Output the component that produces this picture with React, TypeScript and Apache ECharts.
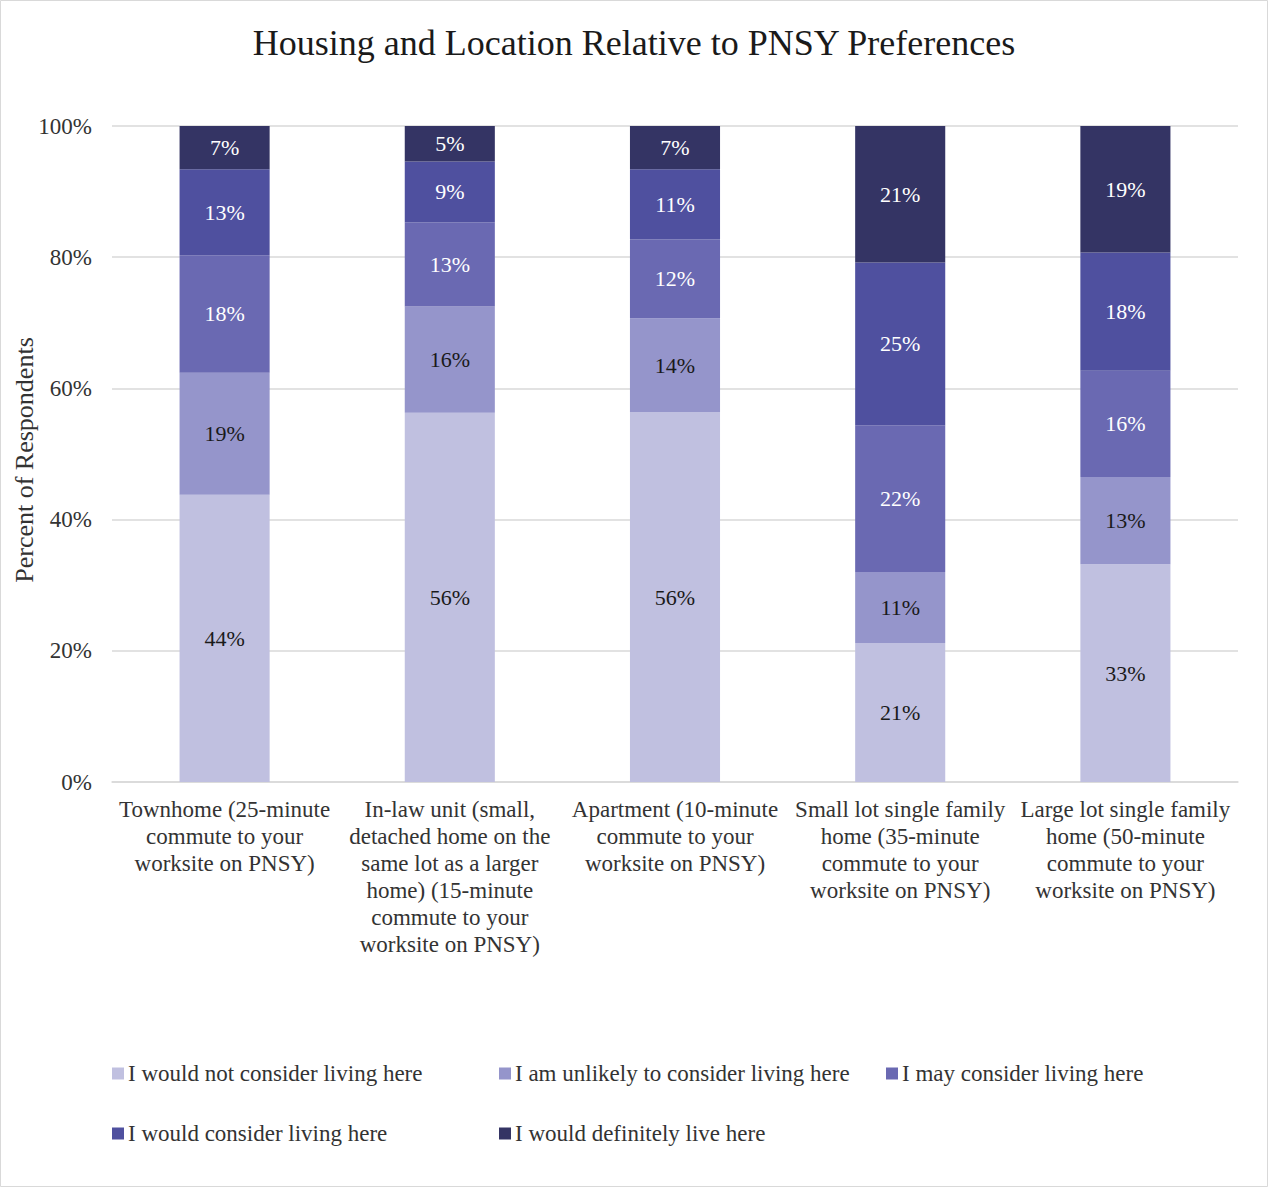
import React, { useEffect, useRef } from "react";
import * as echarts from "echarts";

const categories = [
  "Townhome (25-minute\ncommute to your\nworksite on PNSY)",
  "In-law unit (small,\ndetached home on the\nsame lot as a larger\nhome) (15-minute\ncommute to your\nworksite on PNSY)",
  "Apartment (10-minute\ncommute to your\nworksite on PNSY)",
  "Small lot single family\nhome (35-minute\ncommute to your\nworksite on PNSY)",
  "Large lot single family\nhome (50-minute\ncommute to your\nworksite on PNSY)",
];

const seriesNames = [
  "I would not consider living here",
  "I am unlikely to consider living here",
  "I may consider living here",
  "I would consider living here",
  "I would definitely live here",
];

const wouldNot = [43.8, 56.3, 56.4, 21.2, 33.2];
const unlikely = [18.6, 16.2, 14.3, 10.8, 13.3];
const mayConsider = [17.9, 12.8, 12.0, 22.4, 16.2];
const wouldConsider = [13.1, 9.3, 10.7, 24.8, 18.0];
const definitely = [6.6, 5.4, 6.6, 20.8, 19.3];

const colors = ["#C0C0E0", "#9595CB", "#6A69B2", "#4F509F", "#343464"];
const labelColors = ["#1a1a1a", "#1a1a1a", "#ffffff", "#ffffff", "#ffffff"];

const FONT = "Liberation Serif";

export default function App() {
  const ref = useRef<HTMLDivElement>(null);
  useEffect(() => {
    document.body.style.margin = "0";
    const chart = echarts.init(ref.current!, null, { renderer: "svg" });
    const values = [wouldNot, unlikely, mayConsider, wouldConsider, definitely];
    const legendPos = [
      { left: 107, top: 1057 },
      { left: 494, top: 1057 },
      { left: 881, top: 1057 },
      { left: 107, top: 1117 },
      { left: 494, top: 1117 },
    ];
    chart.setOption({
      animation: false,
      backgroundColor: "#ffffff",
      textStyle: { fontFamily: FONT },
      title: {
        text: "Housing and Location Relative to PNSY Preferences",
        left: "center",
        top: 20,
        textStyle: { fontFamily: FONT, fontSize: 36, fontWeight: "normal", color: "#1a1a1a" },
      },
      graphic: [
        {
          type: "rect",
          shape: { x: 0.5, y: 0.5, width: 1267, height: 1186 },
          style: { fill: "none", stroke: "#d9d9d9", lineWidth: 1 },
        },
      ],
      legend: seriesNames.map((n, i) => ({
        data: [n],
        left: legendPos[i].left,
        top: legendPos[i].top,
        itemWidth: 12,
        itemHeight: 12,
        itemGap: 4,
        icon: "rect",
        selectedMode: false,
        textStyle: { fontFamily: FONT, fontSize: 23, color: "#333", padding: [0, 0, 0, -1] },
      })),
      grid: { left: 112, right: 30, top: 126, bottom: 405, containLabel: false, outerBoundsMode: "none" },
      xAxis: {
        type: "category",
        data: categories,
        axisLine: { lineStyle: { color: "#d9d9d9", width: 1.5 } },
        axisTick: { show: false },
        axisLabel: {
          interval: 0,
          margin: 14,
          fontFamily: FONT,
          fontSize: 23,
          lineHeight: 27,
          color: "#333",
          align: "center",
        },
      },
      yAxis: {
        type: "value",
        min: 0,
        max: 100,
        interval: 20,
        name: "Percent of Respondents",
        nameLocation: "middle",
        nameGap: 75,
        nameMoveOverlap: false,
        nameTextStyle: { fontFamily: FONT, fontSize: 26, color: "#333", padding: [0, 12, 0, 0] },
        axisLabel: {
          formatter: "{value}%",
          margin: 20,
          fontFamily: FONT,
          fontSize: 23,
          color: "#333",
        },
        splitLine: { lineStyle: { color: "#d9d9d9", width: 1.5 } },
        axisLine: { show: false },
        axisTick: { show: false },
      },
      series: seriesNames.map((n, i) => ({
        name: n,
        type: "bar",
        stack: "total",
        barWidth: "40%",
        data: values[i],
        itemStyle: { color: colors[i] },
        label: {
          show: true,
          position: "inside",
          fontFamily: FONT,
          fontSize: 22,
          color: labelColors[i],
          formatter: (p: any) => Math.round(p.value) + "%",
        },
      })),
    });
    return () => chart.dispose();
  }, []);
  return (
    <div
      ref={ref}
      style={{ position: "absolute", left: 0, top: 0, width: 1268, height: 1187 }}
    />
  );
}
